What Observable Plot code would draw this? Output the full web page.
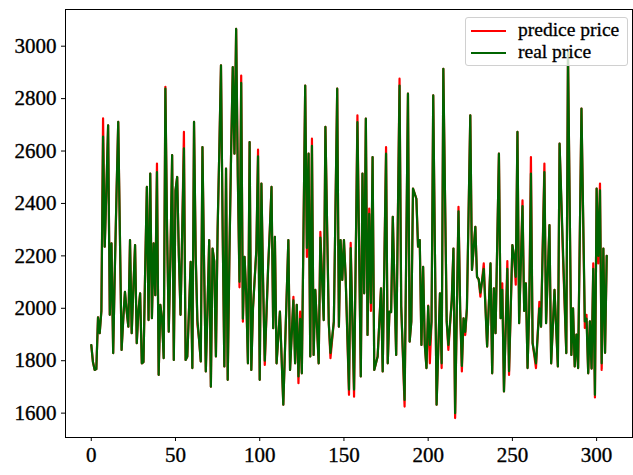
<!DOCTYPE html>
<html>
<head>
<meta charset="utf-8">
<script src="https://cdn.jsdelivr.net/npm/d3@7"></script>
<script src="https://cdn.jsdelivr.net/npm/@observablehq/plot@0.6"></script>
<style>
  html, body { margin: 0; padding: 0; background: white; }
  #wrap { position: relative; width: 633px; height: 475px; overflow: hidden; }
  #wrap svg text { font-family: "Liberation Serif", serif; font-size: 21px; fill: black; stroke: black; stroke-width: 0.35px; }
  #legend { position: absolute; left: 465px; top: 17px; width: 161px; height: 47px;
    background: rgba(255,255,255,0.8); border: 1px solid #d0d0d0; border-radius: 3px;
    font-family: "Liberation Serif", serif; font-size: 19.5px; color: black; -webkit-text-stroke: 0.3px black; }
  #legend span { position: absolute; left: 52px; line-height: 24px; white-space: nowrap; }
  #legend svg { position: absolute; left: 0; top: 0; }
</style>
</head>
<body>
<div id="wrap"><div id="legend"></div></div>
<script>
const idx = [0,1,2,3,4,5,6,7,8,9,10,11,12,13,14,15,16,17,18,19,20,21,22,23,24,25,26,27,28,29,30,31,32,33,34,35,36,37,38,39,40,41,42,43,44,45,46,47,48,49,50,51,52,53,54,55,56,57,58,59,60,61,62,63,64,65,66,67,68,69,70,71,72,73,74,75,76,77,78,79,80,81,82,83,84,85,86,87,88,89,90,91,92,93,94,95,96,98,99,100,101,102,103,105,106,107,108,109,110,112,114,117,118,120,121,122,123,124,125,127,128,129,130,131,132,133,135,136,138,139,141,142,144,146,147,148,149,150,151,153,154,156,158,160,161,162,163,164,165,166,167,168,170,172,173,175,176,177,178,179,181,183,184,186,188,189,190,191,193,194,195,196,197,198,199,200,201,202,203,205,207,208,209,211,212,214,215,216,218,219,220,221,222,223,225,226,228,229,230,231,233,235,237,238,239,240,242,243,244,245,247,248,250,251,252,253,254,256,257,258,259,260,261,262,264,266,267,269,270,272,273,275,277,278,280,282,283,285,286,287,288,289,291,293,294,295,296,297,298,299,300,301,302,303,304,305,306];
const realPrice = [1860,1795,1765,1768,1965,1905,1990,2655,2235,2460,2698,1975,2248,1829,2150,2440,2711,2280,1841,1960,2063,1990,1930,2260,1905,2080,2241,1867,1990,2057,1790,1795,2150,2463,1955,2514,1962,2248,2050,2520,1746,2013,1960,1810,2838,2300,1911,2200,2584,1803,2450,2501,2200,1975,2300,2610,1803,1815,1990,2177,1772,2711,2200,1955,1880,1797,2615,2150,1759,2000,2260,1701,2228,2180,1816,2300,2600,2927,2300,1778,2533,1727,2200,2590,2920,2590,3066,2500,2101,2860,1960,2196,2050,1790,2634,1765,2000,2222,2580,1727,2476,2100,1800,2158,2300,2463,1924,2273,1790,1987,1632,2260,1765,2030,1790,2013,1740,1960,1752,2850,2230,2590,1816,2620,1822,2070,1790,2270,1955,2692,1943,1830,1949,2838,1930,2260,2108,2260,2120,1690,2230,1690,2710,1740,2514,2057,2724,1898,2360,2020,2577,1765,1816,2076,1759,2590,1790,1987,1985,2349,1822,2850,2008,1650,2819,1873,1950,2457,2418,2235,2260,1860,2158,1860,1772,2008,1860,1950,2812,1632,2057,1790,2914,1950,1860,2031,2228,1600,2370,1994,1780,1962,1910,2000,2736,2146,2311,2120,2110,2060,2150,1854,2171,1752,2076,1905,2590,1962,2070,1683,2150,1760,2241,2200,2120,2673,1943,2390,1990,2095,1772,2000,2514,1867,1790,2000,1930,2520,1943,2317,1790,2070,1778,2628,2230,1829,2975,1822,2000,1778,1900,1772,2762,1950,1960,1752,1950,1770,2150,1670,2457,2200,2450,1790,2228,1830,2200];
const predPrice = [1860,1795,1765,1768,1965,1905,1990,2725,2235,2460,2698,1975,2248,1829,2150,2440,2711,2280,1841,1960,2063,1990,1930,2260,1905,2080,2241,1867,1990,2057,1790,1795,2150,2463,1955,2514,1962,2248,2050,2552,1746,2013,1960,1810,2845,2300,1911,2200,2584,1803,2450,2501,2200,1975,2300,2673,1803,1815,1990,2177,1772,2711,2200,1940,1880,1797,2615,2150,1759,2000,2260,1701,2228,2180,1816,2300,2600,2927,2300,1778,2533,1727,2200,2590,2920,2590,3066,2500,2080,2888,1949,2196,2050,1790,2634,1765,2000,2222,2605,1727,2476,2100,1784,2158,2300,2463,1924,2273,1790,1987,1632,2260,1765,2044,1790,2013,1714,1987,1752,2850,2196,2590,1816,2647,1822,2070,1790,2292,1955,2692,1943,1810,1949,2838,1930,2260,2108,2260,2120,1670,2250,1663,2736,1740,2514,2057,2724,1898,2380,1990,2577,1765,1816,2076,1759,2615,1790,1987,1985,2349,1822,2876,2008,1625,2819,1873,1950,2457,2418,2235,2260,1860,2158,1860,1772,2010,1790,1950,2812,1632,2057,1772,2914,1950,1841,2031,2228,1581,2387,1994,1759,1962,1898,2000,2736,2146,2311,2120,2110,2044,2171,1854,2171,1752,2076,1905,2590,1962,2095,1683,2180,1746,2241,2200,2090,2673,1943,2412,1990,2095,1772,2000,2577,1867,1772,2025,1930,2552,1943,2317,1790,2070,1778,2628,2200,1829,2975,1822,2000,1778,1900,1772,2762,1925,1975,1752,1950,1770,2171,1660,2457,2171,2476,1765,2228,1830,2200];
const xTicks = [0, 50, 100, 150, 200, 250, 300];
const yTicks = [1600, 1800, 2000, 2200, 2400, 2600, 2800, 3000];
const seriesNames = ["predice price", "real price"];
const seriesColors = ["#ff0000", "#006400"];

const data = idx.map((i, k) => ({i, real: realPrice[k], pred: predPrice[k]}));

const chart = Plot.plot({
  width: 633,
  height: 475,
  marginLeft: 65,
  marginRight: 1,
  marginTop: 9,
  marginBottom: 38,
  style: {fontFamily: "Liberation Serif", fontSize: "21px", color: "black", background: "white"},
  x: {domain: [-15.3, 321.3]},
  y: {domain: [1507, 3140]},
  marks: [
    Plot.lineY(data, {x: "i", y: "pred", stroke: seriesColors[0], strokeWidth: 2.2}),
    Plot.lineY(data, {x: "i", y: "real", stroke: seriesColors[1], strokeWidth: 2.2}),
    Plot.frame({stroke: "black", strokeWidth: 1}),
    Plot.axisX({ticks: xTicks, tickSize: 4, tickPadding: 6, tickFormat: d => String(d), label: null, fontSize: 21}),
    Plot.axisY({ticks: yTicks, tickSize: 4, tickPadding: 5, tickFormat: d => String(d), label: null, fontSize: 21})
  ]
});
const wrap = document.getElementById("wrap");
wrap.insertBefore(chart, wrap.firstChild);

const legend = document.getElementById("legend");
const ns = "http://www.w3.org/2000/svg";
const lsvg = document.createElementNS(ns, "svg");
lsvg.setAttribute("width", 50); lsvg.setAttribute("height", 47);
const rowsY = [13, 35];
seriesNames.forEach((name, k) => {
  const ln = document.createElementNS(ns, "line");
  ln.setAttribute("x1", 5); ln.setAttribute("x2", 40);
  ln.setAttribute("y1", rowsY[k]); ln.setAttribute("y2", rowsY[k]);
  ln.setAttribute("stroke", seriesColors[k]); ln.setAttribute("stroke-width", 2.2);
  lsvg.appendChild(ln);
  const sp = document.createElement("span");
  sp.textContent = name;
  sp.style.top = (rowsY[k] - 13) + "px";
  legend.appendChild(sp);
});
legend.appendChild(lsvg);
</script>
</body>
</html>
